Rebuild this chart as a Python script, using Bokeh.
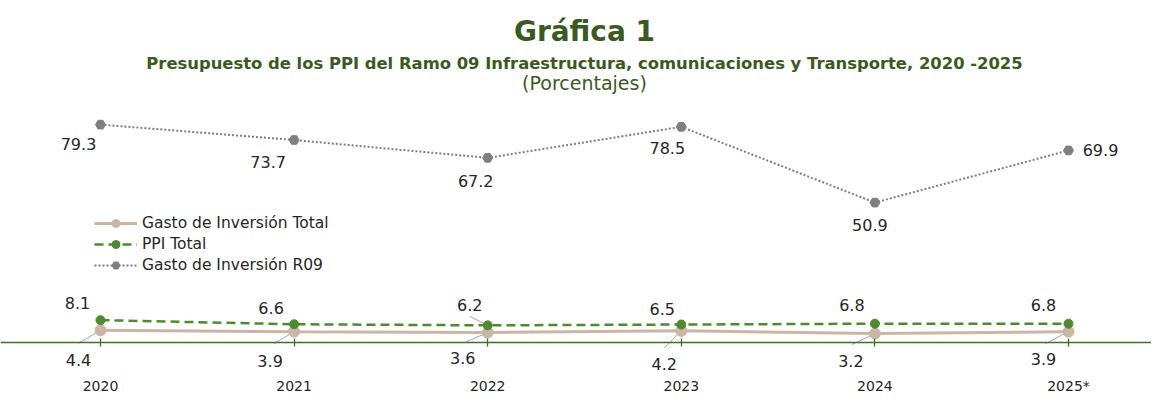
from bokeh.plotting import figure
from bokeh.models import Range1d, ColumnDataSource, Legend, LegendItem, FixedTicker
from bokeh.core.properties import value
from bokeh.embed import file_html
from bokeh.resources import INLINE

# ---------------- data ----------------
years = ["2020", "2021", "2022", "2023", "2024", "2025*"]
gasto_total = [4.4, 3.9, 3.6, 4.2, 3.2, 3.9]
ppi_total = [8.1, 6.6, 6.2, 6.5, 6.8, 6.8]
gasto_r09 = [79.3, 73.7, 67.2, 78.5, 50.9, 69.9]

title = "Gráfica 1"
subtitle = "Presupuesto de los PPI del Ramo 09 Infraestructura, comunicaciones y Transporte, 2020 -2025"
units = "(Porcentajes)"
names = ["Gasto de Inversión Total", "PPI Total", "Gasto de Inversión R09"]

# ---------------- label placement (pixels: right / down) ----------------
r09_dx = [-22, -26, -12, -14, -5, 32]
r09_dy = [19, 22, 23, 21, 22, 0]
ppi_dx = [-23, -23, -18, -19, -23, -25]
ppi_dy = [-17, -16, -20, -16, -19, -19]
gt_dx = [-22, -24, -25, -17, -24, -25]
gt_dy = [30, 29, 26, 33, 27, 27]
# leader line ends (pixels from point)
gt_lx = [-22, -20, -23, -17, -23, -23]
gt_ly = [13, 12, 10, 17, 11, 12]
ppi_lead_idx = [2]
ppi_lx = [-18]
ppi_ly = [-9]

# ---------------- styles ----------------
W, H = 1151, 394
X0 = -0.5165
X1 = X0 + W / 193.6
Y1 = 124.5
Y0 = Y1 - H / 2.746
FONT = "DejaVu Sans"
GREEN_T = "#3a5a1f"
AXIS_G = "#3c7320"
C_GT = "#c9b6a7"
C_PPI = "#508a2e"
C_R09 = "#7f7f7f"
C_LBL = "#262626"
C_LEAD = "#a6a6a6"

px_x = (X1 - X0) / W
px_y = (Y1 - Y0) / H

xs = list(range(len(years)))

p = figure(width=W, height=H, x_range=Range1d(X0, X1), y_range=Range1d(Y0, Y1),
           output_backend="svg", toolbar_location=None, min_border=0,
           min_border_left=0, min_border_right=0, min_border_top=0, min_border_bottom=0)
p.outline_line_color = None
p.xgrid.visible = False
p.ygrid.visible = False
p.yaxis.visible = False
p.background_fill_color = "white"
p.border_fill_color = "white"

# x axis at y = 0
ax = p.xaxis[0]
ax.fixed_location = 0
ax.ticker = FixedTicker(ticks=xs)
ax.major_label_overrides = {i: y for i, y in enumerate(years)}
ax.axis_line_color = AXIS_G
ax.axis_line_width = 1.3
ax.major_tick_line_color = AXIS_G
ax.major_tick_line_width = 1.3
ax.major_tick_in = 4
ax.major_tick_out = 4
ax.minor_tick_line_color = None
ax.major_label_standoff = 32
ax.major_label_text_font = FONT
ax.major_label_text_font_size = "14px"
ax.major_label_text_color = C_LBL

# leader lines
lead_src = ColumnDataSource(dict(
    x0=xs + [xs[i] for i in ppi_lead_idx],
    y0=gasto_total + [ppi_total[i] for i in ppi_lead_idx],
    x1=[x + dx * px_x for x, dx in zip(xs, gt_lx)] +
       [xs[i] + dx * px_x for i, dx in zip(ppi_lead_idx, ppi_lx)],
    y1=[v - dy * px_y for v, dy in zip(gasto_total, gt_ly)] +
       [ppi_total[i] - dy * px_y for i, dy in zip(ppi_lead_idx, ppi_ly)],
))
p.segment(x0="x0", y0="y0", x1="x1", y1="y1", source=lead_src,
          line_color=C_LEAD, line_width=1)

# series
gt_line = p.line(xs, gasto_total, line_color=C_GT, line_width=3)
gt_pts = p.scatter(xs, gasto_total, size=11, marker="circle", fill_color=C_GT, line_color=C_GT)
ppi_line = p.line(xs, ppi_total, line_color=C_PPI, line_width=2.5, line_dash="9 5")
ppi_pts = p.scatter(xs, ppi_total, size=9, marker="circle", fill_color=C_PPI, line_color=C_PPI)
r_line = p.line(xs, gasto_r09, line_color=C_R09, line_width=2, line_dash="2 2")
r_pts = p.scatter(xs, gasto_r09, size=10, marker="hex", fill_color=C_R09, line_color=C_R09)

# data labels
def labels(vals, dx, dy):
    src = ColumnDataSource(dict(x=xs, y=vals, t=[f"{v:.1f}" for v in vals], dx=dx, dy=dy))
    p.text(x="x", y="y", text="t", x_offset="dx", y_offset="dy", source=src,
           text_align="center", text_baseline="middle",
           text_font=value(FONT), text_font_size="16px", text_color=C_LBL)

labels(gasto_r09, r09_dx, r09_dy)
labels(ppi_total, ppi_dx, ppi_dy)
labels(gasto_total, gt_dx, gt_dy)

# titles
xc = (xs[0] + xs[-1]) / 2
p.text(x=[xc], y=[113.3], text=[title], text_align="center", text_baseline="alphabetic",
       text_font=value(FONT), text_font_size="28px", text_font_style="bold", text_color=GREEN_T)
p.text(x=[xc], y=[101.6], text=[subtitle], text_align="center", text_baseline="alphabetic",
       text_font=value(FONT), text_font_size="16.4px", text_font_style="bold", text_color=GREEN_T)
p.text(x=[xc], y=[94.3], text=[units], text_align="center", text_baseline="alphabetic",
       text_font=value(FONT), text_font_size="19px", text_color=GREEN_T)

legend = Legend(items=[
    LegendItem(label=names[0], renderers=[gt_line, gt_pts]),
    LegendItem(label=names[1], renderers=[ppi_line, ppi_pts]),
    LegendItem(label=names[2], renderers=[r_line, r_pts]),
], location=(94, 119))
legend.glyph_width = 43
legend.glyph_height = 20
legend.label_height = 20
legend.spacing = 1
legend.padding = 0
legend.margin = 0
legend.label_standoff = 5
legend.border_line_color = None
legend.background_fill_alpha = 0
legend.label_text_font = FONT
legend.label_text_font_size = "15.5px"
legend.label_text_color = C_LBL
p.add_layout(legend, "center")

open("out.html", "w").write(file_html(p, INLINE))
